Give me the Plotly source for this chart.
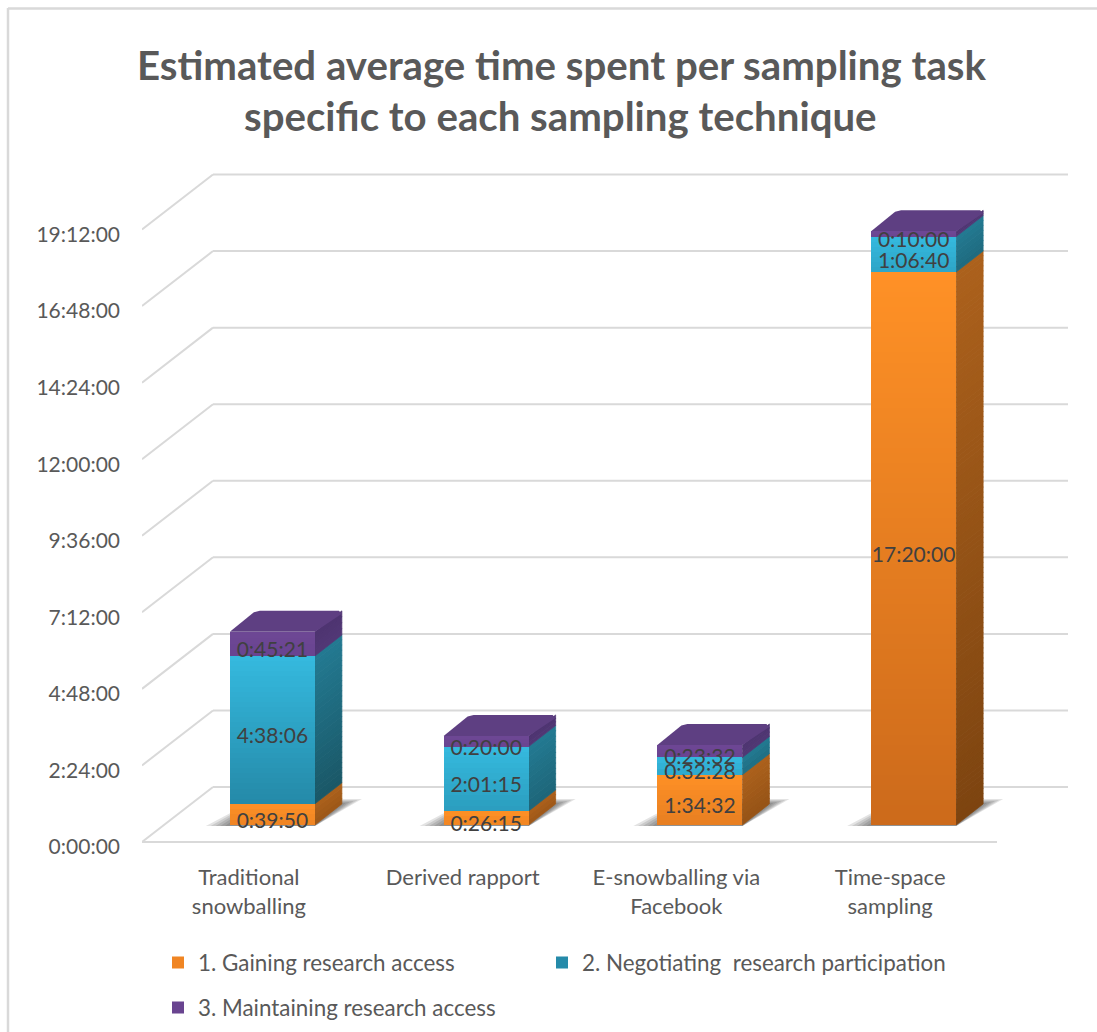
import plotly.graph_objects as go

categories = ["Traditional<br>snowballing", "Derived rapport", "E-snowballing via<br>Facebook", "Time-space<br>sampling"]
gaining = ["0:39:50", "0:26:15", "1:34:32", "17:20:00"]
negotiating = ["4:38:06", "2:01:15", "0:32:28", "1:06:40"]
maintaining = ["0:45:21", "0:20:00", "0:23:32", "0:10:00"]
series_names = ["1. Gaining research access", "2. Negotiating  research participation", "3. Maintaining research access"]
tick_hours = [0, 2.4, 4.8, 7.2, 9.6, 12.0, 14.4, 16.8, 19.2]
tick_labels = ["0:00:00", "2:24:00", "4:48:00", "7:12:00", "9:36:00", "12:00:00", "14:24:00", "16:48:00", "19:12:00"]
title_lines = ["Estimated average time spent per sampling task", "specific to each sampling technique"]

W, H = 1097, 1032
L, R, T, B = 142, 27, 150, 185
PX_X = 213.75          # px per category
PX_Y = 31.9            # px per hour
GREY = "#595959"
FONT = "Lato"

front_colors = [("#FF9126", "#CC6A1B"), ("#35BADF", "#2385A3"), ("#6E4795", "#5E3D86")]
side_colors = [("#AC611C", "#7D4410"), ("#237A92", "#195463"), ("#4D3470", "#5A3E80")]
top_color = "#5E3F82"


def hours(s):
    h, m, sec = s.split(":")
    return int(h) + int(m) / 60 + int(sec) / 3600


def dx(px):
    return px / PX_X


def dy(px):
    return px / PX_Y


def mix(a, b, t):
    ca = [int(a[i:i + 2], 16) for i in (1, 3, 5)]
    cb = [int(b[i:i + 2], 16) for i in (1, 3, 5)]
    return "rgb(%d,%d,%d)" % tuple(round(x + (y - x) * t) for x, y in zip(ca, cb))


def poly(points, fill, line=None, width=0):
    path = "M " + " L ".join(f"{x:.5f},{y:.5f}" for x, y in points) + " Z"
    return dict(type="path", path=path, xref="x", yref="y", layer="below",
                fillcolor=fill, line=dict(width=width, color=line or fill))


def seg(x0, y0, x1, y1, color="#D9D9D9", width=2):
    return dict(type="line", xref="x", yref="y", layer="below", x0=x0, y0=y0, x1=x1, y1=y1,
                line=dict(color=color, width=width))


FLOOR = dy(5)          # front floor line above axis zero (tick text sits slightly lower)
WALL_DX, WALL_DY = dx(71), dy(55)
BAR_DX, BAR_BASE = dx(23.5), dy(22)
BAR_W = dx(85)
DEPTH_X, DEPTH_Y = dx(27), dy(21)

shapes = []
# walls and floor
x_left = -0.5
x_right = 3.5
for v in tick_hours:
    shapes.append(seg(x_left, FLOOR + v, x_left + WALL_DX, FLOOR + v + WALL_DY))
    shapes.append(seg(x_left + WALL_DX, FLOOR + v + WALL_DY, x_right + WALL_DX, FLOOR + v + WALL_DY))
shapes.append(seg(x_left, FLOOR, x_right, FLOOR))

values = [[hours(s) for s in col] for col in (gaining, negotiating, maintaining)]

# shadows on the floor
for i in range(len(categories)):
    x0 = i + BAR_DX - BAR_W / 2
    x1 = x0 + BAR_W
    y0 = BAR_BASE
    for e in (20, 16, 12, 8, 4):
        shapes.append(poly([(x0 - dx(e * 1.2), y0 - dy(1)), (x1, y0 - dy(1)),
                            (x1 + DEPTH_X + dx(e), y0 + DEPTH_Y + dy(e * 0.25)),
                            (x0 + DEPTH_X, y0 + DEPTH_Y + dy(e * 0.25))],
                           "rgba(40,40,40,0.13)"))

fig = go.Figure()
strip_data = [dict(x=[], base=[], y=[], color=[]) for _ in values]
label_x, label_y, label_text = [], [], []

for i in range(len(categories)):
    base = BAR_BASE
    xc = i + BAR_DX
    x0 = xc - BAR_W / 2
    x1 = xc + BAR_W / 2
    for k, col in enumerate(values):
        h = col[i]
        h_px = h * PX_Y
        n = max(3, int(h_px / 5))
        t_end = min(1.0, 0.25 + h_px / 220)
        for j in range(n):
            b = base + h * j / n
            step = h / n
            t_mid = t_end * (1 - (j + 0.5) / n)
            pad = dy(0.4) if j < n - 1 or k < 2 else 0
            d = strip_data[k]
            d["x"].append(xc)
            d["base"].append(b)
            d["y"].append(step + pad)
            d["color"].append(mix(front_colors[k][0], front_colors[k][1], t_mid))
            c = mix(side_colors[k][0], side_colors[k][1], t_mid)
            shapes.append(poly([(x1, b), (x1 + DEPTH_X, b + DEPTH_Y),
                                (x1 + DEPTH_X, b + step + pad + DEPTH_Y), (x1, b + step + pad)],
                               c, line=c, width=0.7))
        label_x.append(xc)
        label_y.append(base + h / 2 - dy(8))
        label_text.append((gaining, negotiating, maintaining)[k][i])
        base += h
    # top cap with slightly rounded far corners
    cx, cy = dx(3), dy(3)
    shapes.append(poly([(x0, base), (x1, base), (x1 + DEPTH_X, base + DEPTH_Y - cy),
                        (x1 + DEPTH_X - cx, base + DEPTH_Y), (x0 + DEPTH_X + cx, base + DEPTH_Y),
                        (x0 + DEPTH_X - cx, base + DEPTH_Y - cy / 2)],
                       top_color))

names_legend = ["legend", "legend2", "legend3"]
for k, d in enumerate(strip_data):
    fig.add_trace(go.Bar(x=d["x"], y=d["y"], base=d["base"], width=BAR_W, name=series_names[k],
                         marker=dict(color=d["color"], line=dict(width=0)),
                         legend=names_legend[k], hoverinfo="skip", showlegend=True))

fig.add_trace(go.Scatter(x=label_x, y=label_y, mode="text", text=label_text, textposition="middle center",
                         textfont=dict(family=FONT, size=21, color="#404040"),
                         showlegend=False, hoverinfo="skip"))

plot_w = W - L - R
plot_h = H - T - B


def px_x(px):
    return (px - L) / plot_w


def px_y(py):
    return 1 - (py - T) / plot_h


# outer border
shapes.append(dict(type="line", xref="paper", yref="paper", x0=px_x(8), x1=px_x(8), y0=px_y(8), y1=px_y(1032),
                   line=dict(color="#D9D9D9", width=2.5)))
shapes.append(dict(type="line", xref="paper", yref="paper", x0=px_x(8), x1=px_x(1097), y0=px_y(8.5), y1=px_y(8.5),
                   line=dict(color="#D9D9D9", width=2.5)))


def legend_at(px, py):
    return dict(x=px_x(px), y=px_y(py), xref="paper", yref="paper", xanchor="left", yanchor="middle",
                orientation="h", bgcolor="rgba(0,0,0,0)", font=dict(family=FONT, size=22.4, color=GREY),
                itemclick=False, itemdoubleclick=False)


annotations = [
    dict(text=title_lines[0], x=px_x(561), y=px_y(64), xref="paper", yref="paper", showarrow=False,
         xanchor="center", yanchor="middle", font=dict(family=FONT, size=40.2, color=GREY, weight="bold")),
    dict(text=title_lines[1], x=px_x(560), y=px_y(116), xref="paper", yref="paper", showarrow=False,
         xanchor="center", yanchor="middle", font=dict(family=FONT, size=40.2, color=GREY, weight="bold")),
]

fig.update_layout(
    width=W, height=H, autosize=False,
    margin=dict(l=L, r=R, t=T, b=B, autoexpand=False),
    paper_bgcolor="white", plot_bgcolor="white",
    barmode="overlay", bargap=0,
    font=dict(family=FONT, size=21, color=GREY),
    shapes=shapes, annotations=annotations,
    legend=legend_at(158, 963), legend2=legend_at(542, 963), legend3=legend_at(158, 1008),
    xaxis=dict(range=[-0.5, 3.5 + dx(73)], tickvals=list(range(len(categories))), ticktext=categories,
               showgrid=False, zeroline=False, showline=False, ticks="", ticklabelstandoff=15,
               tickfont=dict(family=FONT, size=22, color=GREY), fixedrange=True),
    yaxis=dict(range=[0, (H - B - T) / PX_Y], tickvals=tick_hours, ticktext=tick_labels,
               showgrid=False, zeroline=False, showline=False, ticks="", ticklabelstandoff=21,
               tickfont=dict(family=FONT, size=21, color=GREY), fixedrange=True),
)

fig.write_html("out.html", config=dict(displayModeBar=False),
               post_script="document.body.style.margin='0';document.documentElement.style.overflow='hidden';")
